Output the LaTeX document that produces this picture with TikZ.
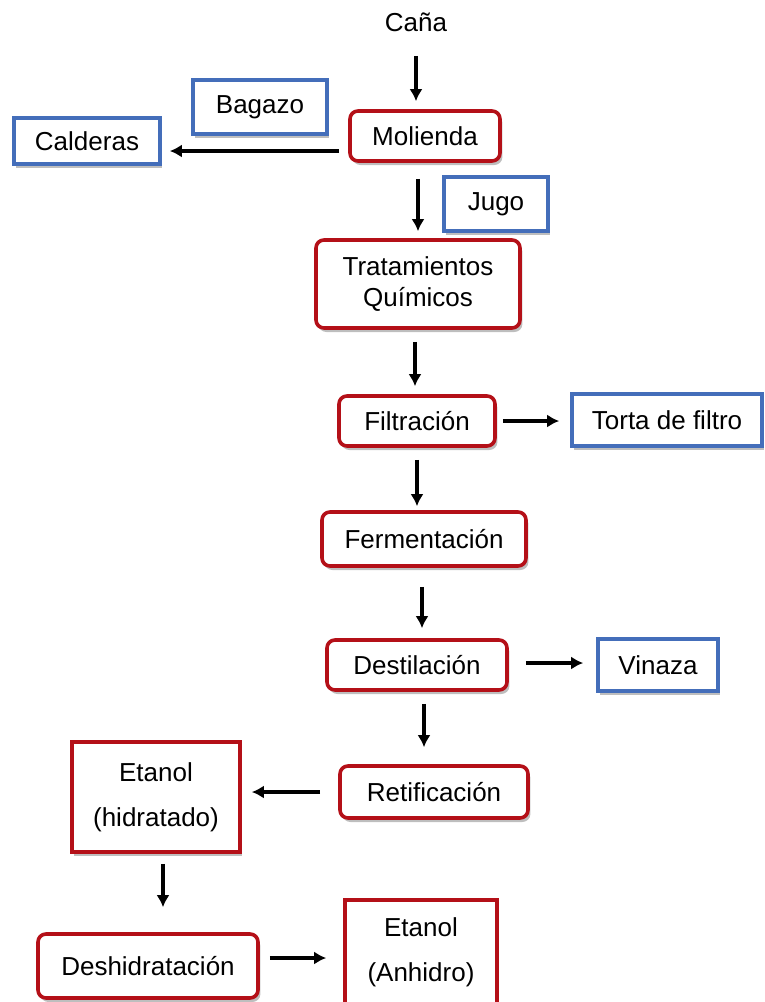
\documentclass[tikz,border=0pt]{standalone}
\usepackage{fontspec}
\setmainfont{Liberation Sans}
\usepackage{xcolor}
\usepackage{tikz}
\usetikzlibrary{arrows.meta,shadows}
\definecolor{stepred}{RGB}{180, 16, 24}
\definecolor{outblue}{RGB}{68, 110, 186}
\definecolor{shadowgray}{RGB}{110, 110, 110}

\begin{document}
\begin{tikzpicture}[x=0.5pt, y=-0.5pt,
  procbox/.style={rectangle, draw=stepred, fill=white, rounded corners=4pt, line width=1.8pt, inner sep=0pt, align=center, font=\fontsize{13}{15.5}\selectfont, drop shadow={shadow xshift=1.2pt, shadow yshift=-2pt, opacity=0.45, fill=shadowgray}},
  prodbox/.style={rectangle, draw=stepred, fill=white, line width=1.8pt, inner sep=0pt, align=center, font=\fontsize{13}{15.5}\selectfont, drop shadow={shadow xshift=1.2pt, shadow yshift=-2pt, opacity=0.45, fill=shadowgray}},
  subbox/.style={rectangle, draw=outblue, fill=white, line width=1.8pt, inner sep=0pt, align=center, font=\fontsize{13}{15.5}\selectfont, drop shadow={shadow xshift=1.2pt, shadow yshift=-2pt, opacity=0.45, fill=shadowgray}},
  flow/.style={-{Latex[length=6pt,width=6.5pt]}, line width=1.6pt, color=black}
]
\useasboundingbox (0,0) rectangle (765,1002);

% Main line (x ~ 420)
\node[inner sep=0pt, font=\fontsize{13}{15.5}\selectfont] (cana) at (416, 22) {Caña};
\node[procbox, minimum width=75pt, minimum height=25pt] (molienda) at (425, 136) {Molienda};
\node[procbox, minimum width=102pt, minimum height=44pt] (trat) at (418, 284) {Tratamientos\\Químicos};
\node[procbox, minimum width=78pt, minimum height=25pt] (filt) at (417, 421) {Filtración};
\node[procbox, minimum width=102pt, minimum height=27pt] (ferm) at (424, 539) {Fermentación};
\node[procbox, minimum width=90pt, minimum height=25pt] (dest) at (417, 665) {Destilación};
\node[procbox, minimum width=94pt, minimum height=26pt] (retif) at (434, 792) {Retificación};

% By-products
\node[subbox, minimum width=67pt, minimum height=27pt] (bagazo) at (260, 107) {Bagazo};
\node[subbox, minimum width=73pt, minimum height=23pt] (calderas) at (87, 141) {Calderas};
\node[subbox, minimum width=52pt, minimum height=27pt] (jugo) at (496, 204) {Jugo};
\node[subbox, minimum width=95pt, minimum height=26pt] (torta) at (667, 420) {Torta de filtro};
\node[subbox, minimum width=60pt, minimum height=26pt] (vinaza) at (658, 665) {Vinaza};

% Ethanol branch
\node[prodbox, minimum width=84pt, minimum height=55pt] (etanolh) at (156, 797) {Etanol\\[7pt](hidratado)};
\node[procbox, minimum width=110pt, minimum height=32pt] (deshid) at (148, 966) {Deshidratación};
\node[prodbox, minimum width=76pt, minimum height=52pt] (etanola) at (421, 952) {Etanol\\[7pt](Anhidro)};

% Connections
\draw[flow, shorten <=12pt, shorten >=4pt] (cana.south) -- (cana.south |- molienda.north);
\draw[flow, shorten <=4.5pt, shorten >=4pt] ([yshift=-7.5pt]molienda.west) -- ([yshift=-7.5pt]molienda.west -| calderas.east);
\draw[flow, shorten <=8pt, shorten >=3.5pt] (molienda.south -| trat.north) -- (trat.north);
\draw[flow, shorten <=6pt, shorten >=4pt] ([xshift=-1.5pt]trat.south) -- ([xshift=-1.5pt]trat.south |- filt.north);
\draw[flow, shorten <=3pt, shorten >=5.5pt] (filt.east) -- (filt.east -| torta.west);
\draw[flow, shorten <=6pt, shorten >=2pt] (filt.south) -- (filt.south |- ferm.north);
\draw[flow, shorten <=9.5pt, shorten >=5pt] ([xshift=-1pt]ferm.south) -- ([xshift=-1pt]ferm.south |- dest.north);
\draw[flow, shorten <=8.5pt, shorten >=6.5pt] ([yshift=1pt]dest.east) -- ([yshift=1pt]dest.east -| vinaza.west);
\draw[flow, shorten <=6pt, shorten >=8.5pt] ([xshift=3.5pt]dest.south) -- ([xshift=3.5pt]dest.south |- retif.north);
\draw[flow, shorten <=9pt, shorten >=5pt] (retif.west) -- (retif.west -| etanolh.east);
\draw[flow, shorten <=5pt, shorten >=12.5pt] ([xshift=3.5pt]etanolh.south) -- ([xshift=3.5pt]etanolh.south |- deshid.north);
\draw[flow, shorten <=5pt, shorten >=8.5pt] ([yshift=4pt]deshid.east) -- ([yshift=4pt]deshid.east -| etanola.west);

\end{tikzpicture}
\end{document}
